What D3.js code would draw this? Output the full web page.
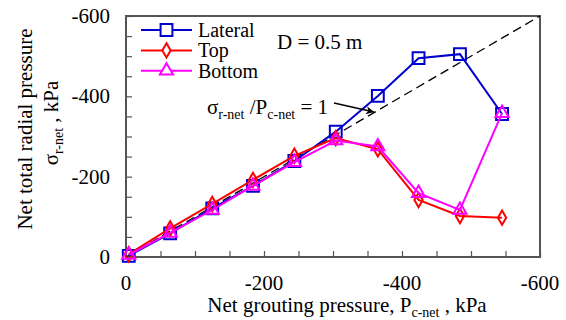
<!DOCTYPE html>
<html>
<head>
<meta charset="utf-8">
<script src="https://cdn.jsdelivr.net/npm/d3@7"></script>
</head>
<body style="margin:0">
<script>
// data (kPa, negative = compression)
var grouting = [-4, -64, -125, -184, -244, -304, -365, -424, -484, -545];
var lateral = [-3, -59, -121, -177, -239, -312, -401, -495, -505, -356];
var topP = [-7, -71, -132, -192, -252, -296, -268, -142, -102, -98];
var bottomP = [-5, -60, -117, -177, -236, -290, -275, -159, -117, -358];
var xTicks = [0, -200, -400, -600];
var yTicks = [0, -200, -400, -600];

var FONT = "Liberation Serif";
var svgWidth = 566;
var svgHeight = 320;
var margin = { top: 16, right: 26, bottom: 63, left: 126 };
var width = svgWidth - margin.left - margin.right;
var height = svgHeight - margin.top - margin.bottom;

var svg = d3.select("body").append("svg")
  .attr("width", svgWidth)
  .attr("height", svgHeight)
  .style("font-family", FONT);

var chartGroup = svg.append("g")
  .attr("transform", `translate(${margin.left}, ${margin.top})`);

var x = d3.scaleLinear().domain([0, -600]).range([0, width]);
var y = d3.scaleLinear().domain([0, -600]).range([height, 0]);

// minor ticks pointing inward
var bottomAxis = d3.axisBottom(x).tickValues(d3.range(0, -601, -50))
  .tickSize(-6).tickFormat("");
var leftAxis = d3.axisLeft(y).tickValues(d3.range(0, -601, -50))
  .tickSize(-6).tickFormat("");

var xAxis = chartGroup.append("g")
  .attr("transform", `translate(0, ${height})`)
  .call(bottomAxis);
var yAxis = chartGroup.append("g").call(leftAxis);
[xAxis, yAxis].forEach(function(ax) {
  ax.select(".domain").remove();
  ax.selectAll("line").attr("stroke", "#555").attr("stroke-width", 1.2);
});

// frame
chartGroup.append("rect")
  .attr("width", width).attr("height", height)
  .attr("fill", "none").attr("stroke", "#555").attr("stroke-width", 2);

// tick labels
chartGroup.selectAll(".xlab").data(xTicks).enter().append("text")
  .attr("x", d => x(d)).attr("y", height + 33)
  .attr("text-anchor", "middle")
  .style("font-family", FONT).style("font-size", "21px")
  .text(d => d);
chartGroup.selectAll(".ylab").data(yTicks).enter().append("text")
  .attr("x", -16).attr("y", d => y(d) + 7)
  .attr("text-anchor", "end")
  .style("font-family", FONT).style("font-size", "21px")
  .text(d => d);

// 1:1 reference line
chartGroup.append("line")
  .attr("x1", x(0)).attr("y1", y(0))
  .attr("x2", x(-600)).attr("y2", y(-600))
  .attr("stroke", "#000").attr("stroke-width", 1.3)
  .attr("stroke-dasharray", "9,5");

var series = [
  { name: "Lateral", values: lateral, color: "#0000cc", shape: d3.symbolSquare, size: 140 },
  { name: "Top", values: topP, color: "#ff0000", shape: d3.symbolDiamond, size: 60 },
  { name: "Bottom", values: bottomP, color: "#ff00ff", shape: d3.symbolTriangle, size: 75 }
];

var line = d3.line().x(d => x(d[0])).y(d => y(d[1]));

series.forEach(function(s) {
  var pts = grouting.map((g, i) => [g, s.values[i]]);
  chartGroup.append("path")
    .attr("d", line(pts))
    .attr("fill", "none").attr("stroke", s.color).attr("stroke-width", 2);
  chartGroup.selectAll(null).data(pts).enter().append("path")
    .attr("d", d3.symbol().type(s.shape).size(s.size))
    .attr("transform", d => `translate(${x(d[0])}, ${y(d[1])})`)
    .attr("fill", "none").attr("stroke", s.color).attr("stroke-width", 2);
});

// legend
var legend = svg.append("g").attr("transform", "translate(141, 30)");
series.forEach(function(s, i) {
  var row = legend.append("g").attr("transform", `translate(0, ${i * 20.4})`);
  row.append("line").attr("x1", 0).attr("x2", 51)
    .attr("stroke", s.color).attr("stroke-width", 2);
  row.append("path")
    .attr("d", d3.symbol().type(s.shape).size(s.size))
    .attr("transform", "translate(25.5, 0)")
    .attr("fill", "#fff").attr("stroke", s.color).attr("stroke-width", 2);
  row.append("text").attr("x", 57).attr("y", 7)
    .style("font-family", FONT).style("font-size", "20px").text(s.name);
});

svg.append("text").attr("x", 277).attr("y", 49)
  .style("font-family", FONT).style("font-size", "21px").text("D = 0.5 m");

// annotation for the 1:1 line
var ann = svg.append("text").attr("x", 207).attr("y", 114)
  .style("font-family", FONT).style("font-size", "21px");
ann.append("tspan").text("σ");
ann.append("tspan").attr("dy", 5).style("font-size", "14px").text("r-net");
ann.append("tspan").attr("dy", -5).text(" /P");
ann.append("tspan").attr("dy", 5).style("font-size", "14px").text("c-net");
ann.append("tspan").attr("dy", -5).text(" = 1");

svg.append("defs").append("marker")
  .attr("id", "arrow").attr("viewBox", "0 0 10 10")
  .attr("refX", 10).attr("refY", 5)
  .attr("markerWidth", 10).attr("markerHeight", 8)
  .attr("markerUnits", "userSpaceOnUse")
  .attr("orient", "auto")
  .append("path").attr("d", "M0,0 L10,5 L0,10 L3,5 Z").attr("fill", "#000");
svg.append("line")
  .attr("x1", 334).attr("y1", 103).attr("x2", 374).attr("y2", 112)
  .attr("stroke", "#000").attr("stroke-width", 1.3)
  .attr("marker-end", "url(#arrow)");

// axis titles
var xt = svg.append("text").attr("x", 347).attr("y", 312)
  .attr("text-anchor", "middle")
  .style("font-family", FONT).style("font-size", "21px");
xt.append("tspan").text("Net grouting pressure, P");
xt.append("tspan").attr("dy", 5).style("font-size", "14px").text("c-net");
xt.append("tspan").attr("dy", -5).text(" , kPa");

svg.append("text")
  .attr("transform", "translate(32, 129) rotate(-90)")
  .attr("text-anchor", "middle")
  .style("font-family", FONT).style("font-size", "21px")
  .text("Net total radial pressure");
var yt = svg.append("text")
  .attr("transform", "translate(58, 123) rotate(-90)")
  .attr("text-anchor", "middle")
  .style("font-family", FONT).style("font-size", "21px");
yt.append("tspan").text("σ");
yt.append("tspan").attr("dy", 5).style("font-size", "14px").text("r-net");
yt.append("tspan").attr("dy", -5).text(" , kPa");
</script>
</body>
</html>
